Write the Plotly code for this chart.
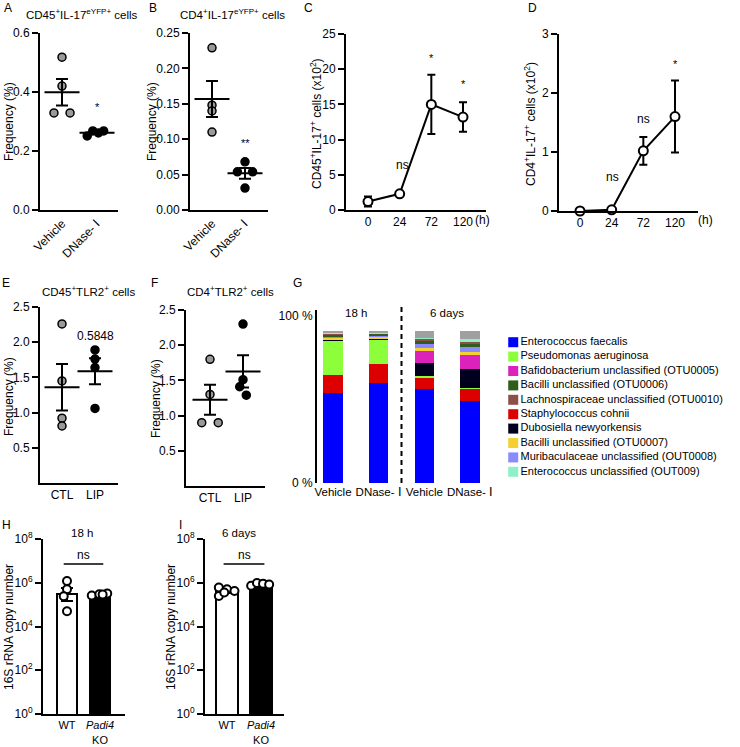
import numpy as np
import plotly.graph_objects as go

W, H = 740, 747
FONT = "Liberation Sans, Arial, Helvetica, sans-serif"

# ---------------- data ----------------
ab_groups = ["Vehicle", "DNase- Ⅰ"]
a_vehicle = [0.518, 0.420, 0.329, 0.329]
a_dnase = [0.251, 0.268, 0.261, 0.268]
a_mark = "*"
b_vehicle = [0.229, 0.148, 0.140, 0.110]
b_dnase = [0.068, 0.054, 0.054, 0.031]
b_mark = "**"

time_labels = ["0", "24", "72", "120"]
c_mean = [1.2, 2.3, 15.0, 13.2]
c_sem = [0.7, 0.2, 4.2, 2.1]
c_marks = ["", "ns", "*", "*"]
d_mean = [0.0, 0.02, 1.02, 1.6]
d_sem = [0.02, 0.01, 0.235, 0.61]
d_marks = ["", "ns", "ns", "*"]

ef_groups = ["CTL", "LIP"]
e_ctl = [2.26, 1.45, 0.92, 0.81]
e_lip = [1.89, 1.76, 1.64, 1.06]
e_p = "0.5848"
f_ctl = [1.80, 1.30, 0.90, 0.90]
f_lip = [2.30, 1.51, 1.41, 1.29]
f_p = "0.2484"

g_samples = ["Vehicle", "DNase- Ⅰ", "Vehicle", "DNase- Ⅰ"]
g_periods = ["18 h", "6 days"]
g_e_faecalis = [53.9, 59.9, 56.3, 49.1]
g_s_cohnii = [10.8, 11.4, 6.6, 7.2]
g_p_aeruginosa = [20.4, 14.4, 1.2, 0.6]
g_d_newyorkensis = [0.3, 0.3, 7.8, 11.4]
g_bafidobacterium = [0.3, 0.3, 7.2, 8.4]
g_bacilli_0007 = [1.0, 1.0, 1.4, 1.8]
g_muribaculaceae = [0.6, 0.5, 2.8, 2.8]
g_bacilli_0006 = [1.2, 1.1, 1.4, 1.6]
g_lachnospiraceae = [0.4, 0.4, 1.2, 1.6]
g_enterococcus_unc = [0.8, 0.7, 1.0, 1.8]
g_others = [1.4, 1.1, 4.2, 4.8]

legend_names = [
    "Enterococcus faecalis", "Pseudomonas aeruginosa",
    "Bafidobacterium unclassified (OTU0005)", "Bacilli unclassified (OTU0006)",
    "Lachnospiraceae unclassified (OTU0010)", "Staphylococcus cohnii",
    "Dubosiella newyorkensis", "Bacilli unclassified (OTU0007)",
    "Muribaculaceae unclassified (OUT0008)", "Enterococcus unclassified (OUT009)",
]

hi_groups = ["WT", "<i>Padi4</i><br>KO"]
h_wt = [1.2e6, 5.0e5, 2.4e5, 5.0e4]
h_ko = [2.6e5, 3.0e5, 3.2e5, 2.9e5]
i_wt = [6.0e5, 5.0e5, 4.2e5, 2.5e5, 3.6e5]
i_ko = [7.3e5, 9.7e5, 9.1e5, 8.3e5]
hi_mark = "ns"

# ---------------- style / geometry ----------------
COLORS = {
    "Enterococcus faecalis": "#0000FF",
    "Pseudomonas aeruginosa": "#8CFF3A",
    "Bafidobacterium unclassified (OTU0005)": "#DD22BB",
    "Bacilli unclassified (OTU0006)": "#2F5E1C",
    "Lachnospiraceae unclassified (OTU0010)": "#8E5046",
    "Staphylococcus cohnii": "#DD0000",
    "Dubosiella newyorkensis": "#00001E",
    "Bacilli unclassified (OTU0007)": "#F5D033",
    "Muribaculaceae unclassified (OUT0008)": "#8A8AFF",
    "Enterococcus unclassified (OUT009)": "#8CF0C8",
    "Others": "#A0A0A0",
}
GRAY_DOT = "#9a9a9a"

# pixel boxes: x0, x1, top, bottom, first category px, last category px
GEOM = {
    1: (40, 118, 33, 210, 62, 97),
    2: (190, 268, 33, 210, 212, 245),
    3: (346, 486, 34, 210, 368, 463),
    4: (559, 698, 34, 211, 580, 675),
    5: (40, 118, 307, 483, 62, 95),
    6: (186, 265, 310, 486, 210, 243),
    7: (317, 488, 310, 483, 333, 470),
    8: (43, 125, 539, 714, 67, 100),
    9: (205, 284, 539, 714, 227, 261),
}
JIT = {
    "a1": [0, 0, -0.23, 0.23], "a2": [-0.28, -0.12, 0.04, 0.19],
    "b1": [0, 0, 0, 0], "b2": [0, -0.23, 0.23, 0],
    "e1": [0, 0, 0, 0], "e2": [0, 0, 0, 0],
    "f1": [0, 0, -0.25, 0.25], "f2": [0, 0, -0.1, 0.1],
    "h1": [0, 0, -0.1, 0], "h2": [-0.25, -0.02, 0.22, 0.08],
    "i1": [-0.24, 0.0, 0.22, -0.24, -0.08], "i2": [-0.29, -0.12, 0.06, 0.24],
}


def sx(n):
    return "" if n == 1 else str(n)


def cat_range(n, ncat):
    x0, x1, _, _, p0, p1 = GEOM[n]
    step = (p1 - p0) / (ncat - 1)
    return [-(p0 - x0) / step, (ncat - 1) + (x1 - p1) / step]


def dom(n):
    x0, x1, top, bot = GEOM[n][:4]
    return [x0 / W, x1 / W], [1 - bot / H, 1 - top / H]


def P(px, py):
    return px / W, 1 - py / H


fig = go.Figure()
layout_axes = {}
annotations = []

YSTYLE = dict(showline=True, linecolor="black", linewidth=2, ticks="outside",
              ticklen=6, tickwidth=2, tickcolor="black", showgrid=False,
              zeroline=False, automargin=False, tickfont=dict(size=12, color="black"))
XSTYLE = dict(showline=True, linecolor="black", linewidth=2, ticks="",
              showgrid=False, zeroline=False, automargin=False,
              tickfont=dict(size=12, color="black"))


def axes(n, ncat, ticktext, yrange, ytickvals, yfmt=None, ylog=False, yticktext=None,
         tickangle=0, xline=True, yticks="outside", xfont=12):
    dx, dy = dom(n)
    xa = dict(XSTYLE, domain=dx, range=cat_range(n, ncat), anchor="y" + sx(n),
              tickmode="array", tickvals=list(range(ncat)), ticktext=ticktext,
              tickangle=tickangle, showline=xline, tickfont=dict(size=xfont, color="black"))
    ya = dict(YSTYLE, domain=dy, range=yrange, anchor="x" + sx(n),
              tickmode="array", tickvals=ytickvals, ticks=yticks)
    if yticktext is not None:
        ya["ticktext"] = yticktext
    if yfmt:
        ya["tickformat"] = yfmt
    if ylog:
        ya["type"] = "log"
    layout_axes["xaxis" + sx(n)] = xa
    layout_axes["yaxis" + sx(n)] = ya


def dots(n, vals, pos, offs, fill, size=8, lw=1.5):
    fig.add_trace(go.Scatter(
        x=[pos + o for o in offs], y=vals, mode="markers", cliponaxis=False,
        marker=dict(size=size, color=fill, line=dict(color="black", width=lw)),
        xaxis="x" + sx(n), yaxis="y" + sx(n), showlegend=False, hoverinfo="skip"))


def mean_sem(n, groups):
    means = [float(np.mean(v)) for v in groups]
    sems = [float(np.std(v, ddof=1) / np.sqrt(len(v))) for v in groups]
    fig.add_trace(go.Scatter(
        x=list(range(len(groups))), y=means, mode="markers", cliponaxis=False,
        marker=dict(symbol="line-ew", size=25, color="black",
                    line=dict(color="black", width=2)),
        error_y=dict(type="data", array=sems, color="black", thickness=2, width=6),
        xaxis="x" + sx(n), yaxis="y" + sx(n), showlegend=False, hoverinfo="skip"))


def text_ann(n, x, y, text, size=12):
    annotations.append(dict(x=x, y=y, xref="x" + sx(n), yref="y" + sx(n), text=text,
                            showarrow=False, font=dict(size=size, color="black")))


def paper_ann(px, py, text, size=12, angle=0, xanchor="center"):
    x, y = P(px, py)
    annotations.append(dict(x=x, y=y, xref="paper", yref="paper", text=text,
                            showarrow=False, textangle=angle, xanchor=xanchor,
                            yanchor="middle", font=dict(size=size, color="black")))


# ---------- A ----------
axes(1, 2, ab_groups, [0, 0.6], [0, 0.2, 0.4, 0.6], ".1f", tickangle=-45)
dots(1, a_vehicle, 0, JIT["a1"], GRAY_DOT)
dots(1, a_dnase, 1, JIT["a2"], "black")
mean_sem(1, [a_vehicle, a_dnase])
text_ann(1, 1, 0.35, a_mark, 11)

# ---------- B ----------
axes(2, 2, ab_groups, [0, 0.25], [0, 0.05, 0.10, 0.15, 0.20, 0.25], ".2f", tickangle=-45)
dots(2, b_vehicle, 0, JIT["b1"], GRAY_DOT)
dots(2, b_dnase, 1, JIT["b2"], "black")
mean_sem(2, [b_vehicle, b_dnase])
text_ann(2, 1, 0.094, b_mark, 11)

# ---------- C / D ----------
for n, mean, sem, marks, yr, yt in [
    (3, c_mean, c_sem, c_marks, [0, 25], [0, 5, 10, 15, 20, 25]),
    (4, d_mean, d_sem, d_marks, [0, 3], [0, 1, 2, 3]),
]:
    axes(n, 4, time_labels, yr, yt)
    fig.add_trace(go.Scatter(
        x=list(range(4)), y=mean, mode="lines+markers", cliponaxis=False,
        line=dict(color="black", width=2),
        marker=dict(symbol="circle", size=9, color="white",
                    line=dict(color="black", width=2)),
        error_y=dict(type="data", array=sem, color="black", thickness=2, width=4),
        xaxis="x" + sx(n), yaxis="y" + sx(n), showlegend=False, hoverinfo="skip"))

text_ann(3, 1.1, 6.4, c_marks[1])
text_ann(3, 2, 21.6, c_marks[2], 11)
text_ann(3, 3, 17.9, c_marks[3], 11)
text_ann(4, 1.04, 0.58, d_marks[1])
text_ann(4, 2, 1.56, d_marks[2])
text_ann(4, 3, 2.5, d_marks[3], 11)

# ---------- E / F ----------
axes(5, 2, ef_groups, [0, 2.5], [0.5, 1.0, 1.5, 2.0, 2.5], ".1f")
dots(5, e_ctl, 0, JIT["e1"], GRAY_DOT)
dots(5, e_lip, 1, JIT["e2"], "black")
mean_sem(5, [e_ctl, e_lip])
text_ann(5, 1, 2.09, e_p)

axes(6, 2, ef_groups, [0, 2.5], [0.5, 1.0, 1.5, 2.0, 2.5], ".1f")
dots(6, f_ctl, 0, JIT["f1"], GRAY_DOT)
dots(6, f_lip, 1, JIT["f2"], "black")
mean_sem(6, [f_ctl, f_lip])
text_ann(6, 1, 2.52, f_p)

# ---------- G ----------
axes(7, 4, g_samples, [0, 103.5], [0, 100], yticktext=["0 %", "100 %"],
     xline=False, yticks="", xfont=11.5)
stack = [
    ("Enterococcus faecalis", g_e_faecalis),
    ("Staphylococcus cohnii", g_s_cohnii),
    ("Pseudomonas aeruginosa", g_p_aeruginosa),
    ("Dubosiella newyorkensis", g_d_newyorkensis),
    ("Bafidobacterium unclassified (OTU0005)", g_bafidobacterium),
    ("Bacilli unclassified (OTU0007)", g_bacilli_0007),
    ("Muribaculaceae unclassified (OUT0008)", g_muribaculaceae),
    ("Bacilli unclassified (OTU0006)", g_bacilli_0006),
    ("Lachnospiraceae unclassified (OTU0010)", g_lachnospiraceae),
    ("Enterococcus unclassified (OUT009)", g_enterococcus_unc),
    ("Others", g_others),
]
for name, vals in stack:
    fig.add_trace(go.Bar(x=list(range(4)), y=vals, width=0.42, name=name,
                         marker=dict(color=COLORS[name], line=dict(width=0)),
                         xaxis="x7", yaxis="y7", showlegend=False, hoverinfo="skip"))

# custom legend (points + names drawn through an invisible axis)
layout_axes["xaxis10"] = dict(domain=[505 / W, 740 / W], range=[0, 1], visible=False,
                              anchor="y10", automargin=False)
layout_axes["yaxis10"] = dict(domain=[1 - 479 / H, 1 - 335 / H], range=[9.5, -0.5],
                              visible=False, anchor="x10", automargin=False)
fig.add_trace(go.Scatter(
    x=[0.035] * len(legend_names), y=list(range(len(legend_names))),
    mode="markers+text", text=legend_names, textposition="middle right",
    textfont=dict(size=11, color="black"), cliponaxis=False,
    marker=dict(symbol="square", size=10, color=[COLORS[k] for k in legend_names]),
    xaxis="x10", yaxis="y10", showlegend=False, hoverinfo="skip"))

# ---------- H / I ----------
for n, wt, ko, jw, jk in [(8, h_wt, h_ko, "h1", "h2"), (9, i_wt, i_ko, "i1", "i2")]:
    axes(n, 2, hi_groups, [0, 8], [1, 1e2, 1e4, 1e6, 1e8], ylog=True,
         yticktext=["10<sup>0</sup>", "10<sup>2</sup>", "10<sup>4</sup>",
                    "10<sup>6</sup>", "10<sup>8</sup>"], xfont=11)
    logs = [np.log10(wt), np.log10(ko)]
    gm = [float(10 ** np.mean(l)) for l in logs]
    se = [float(np.std(l, ddof=1) / np.sqrt(len(l))) for l in logs]
    up = [float(10 ** (np.mean(l) + s) - g) for l, s, g in zip(logs, se, gm)]
    dn = [float(g - 10 ** (np.mean(l) - s)) for l, s, g in zip(logs, se, gm)]
    fig.add_trace(go.Bar(
        x=[0, 1], y=gm, width=0.62,
        marker=dict(color=["white", "black"], line=dict(color="black", width=2)),
        error_y=dict(type="data", array=up, arrayminus=dn, color="black",
                     thickness=2, width=6),
        xaxis="x" + sx(n), yaxis="y" + sx(n), showlegend=False, hoverinfo="skip"))
    dots(n, wt, 0, JIT[jw], "white", size=8, lw=2)
    dots(n, ko, 1, JIT[jk], "white", size=8, lw=2)
    fig.add_trace(go.Scatter(
        x=[-0.1, 1.1], y=[7.2e6, 7.2e6], mode="lines", line=dict(color="black", width=1.5),
        xaxis="x" + sx(n), yaxis="y" + sx(n), showlegend=False, hoverinfo="skip"))
    text_ann(n, 0.5, 7.28, hi_mark)

# ---------- labels ----------
for px, py, t in [(8, 8, "A"), (153, 8, "B"), (308, 8, "C"), (532, 8, "D"),
                  (6, 283, "E"), (154, 283, "F"), (297, 283, "G"),
                  (6, 525, "H"), (180, 525, "I")]:
    paper_ann(px, py, t, 12)

paper_ann(82, 14, "CD45<sup>+</sup>IL-17<sup>eYFP+</sup> cells", 11.5)
paper_ann(232, 14, "CD4<sup>+</sup>IL-17<sup>eYFP+</sup> cells", 11.5)
paper_ann(88, 291, "CD45<sup>+</sup>TLR2<sup>+</sup> cells", 11.5)
paper_ann(231, 291, "CD4<sup>+</sup>TLR2<sup>+</sup> cells", 11.5)
paper_ann(356, 313, g_periods[0], 11.5)
paper_ann(447, 313, g_periods[1], 11.5)
paper_ann(82, 533, g_periods[0], 11.5)
paper_ann(239, 533, g_periods[1], 11.5)

paper_ann(9, 122, "Frequency (%)", 12, -90)
paper_ann(152, 122, "Frequency (%)", 12, -90)
paper_ann(9, 397, "Frequency (%)", 12, -90)
paper_ann(156, 399, "Frequency (%)", 12, -90)
paper_ann(316, 124, "CD45<sup>+</sup>IL-17<sup>+</sup> cells (x10<sup>2</sup>)", 12, -90)
paper_ann(530, 124, "CD4<sup>+</sup>IL-17<sup>+</sup> cells (x10<sup>2</sup>)", 12, -90)
paper_ann(9, 627, "16S rRNA copy number", 12, -90)
paper_ann(171, 627, "16S rRNA copy number", 12, -90)
paper_ann(482, 220, "(h)", 12)
paper_ann(705, 220, "(h)", 12)

fig.update_layout(
    template="none",
    width=W, height=H, margin=dict(l=0, r=0, t=0, b=0, pad=0),
    paper_bgcolor="white", plot_bgcolor="white", barmode="stack", bargap=0,
    font=dict(family=FONT, color="black", size=12), showlegend=False,
    annotations=annotations,
    shapes=[dict(type="line", xref="x7", yref="paper", x0=1.5, x1=1.5,
                 y0=1 - 483 / H, y1=1 - 306 / H,
                 line=dict(color="black", width=2, dash="5px,4px"))],
    **layout_axes,
)

fig.write_html("out.html",
               config={"displayModeBar": False, "staticPlot": True},
               post_script="document.body.style.margin='0';"
                           "document.body.style.overflow='hidden';")
